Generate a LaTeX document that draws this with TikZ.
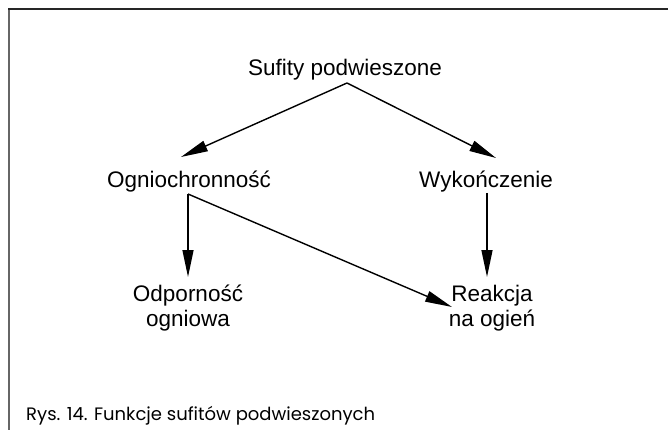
\documentclass[tikz,border=0pt]{standalone}
\usepackage{fontspec}
\setmainfont{Liberation Sans}
\newfontfamily\capfont{Poppins}
\usetikzlibrary{arrows.meta}
\begin{document}
\begin{tikzpicture}[x=1pt,y=-1pt,
  lbl/.style={font=\fontsize{22.5}{25}\selectfont, inner sep=0pt},
  capt/.style={font=\capfont\fontsize{18}{20}\selectfont, inner sep=0pt},
  conn/.style={line width=1.4pt, -{Triangle[length=27pt,width=11pt]}},
  frame/.style={line width=1.5pt}]
\useasboundingbox (0,0) rectangle (668,430);
\draw[frame, black!60] (9,9) -- (9,430);
\draw[frame, black!85] (8.25,9) -- (668,9);
\node[lbl, anchor=base] (top) at (345,76) {Sufity podwieszone};
\node[lbl, anchor=base] (og) at (189,188) {Ogniochronność};
\node[lbl, anchor=base] (wy) at (486,188) {Wykończenie};
\node[lbl, anchor=base, align=center] (od) at (188,326) {Odporność\\ogniowa};
\node[lbl, anchor=base, align=center] (re) at (492,326) {Reakcja\\na ogień};
\node[capt, anchor=base west] (cap) at (26,420) {Rys. 14. Funkcje sufitów podwieszonych};
\coordinate (t1) at ([xshift=2pt,yshift=-7pt]top.base);
\coordinate (o1) at ([xshift=-1pt,yshift=-6pt]og.base);
\coordinate (w1) at ([xshift=1pt,yshift=-5pt]wy.base);
\draw[conn] (t1) -- ([xshift=-8pt,yshift=31pt]og.base);
\draw[conn] (t1) -- ([xshift=10pt,yshift=30pt]wy.base);
\draw[conn] (o1) -- ([yshift=49pt]od.base -| o1);
\draw[conn] (o1) -- ([xshift=-40pt,yshift=19pt]re.base);
\draw[conn] (w1) -- ([yshift=49pt]re.base -| w1);
\end{tikzpicture}
\end{document}
